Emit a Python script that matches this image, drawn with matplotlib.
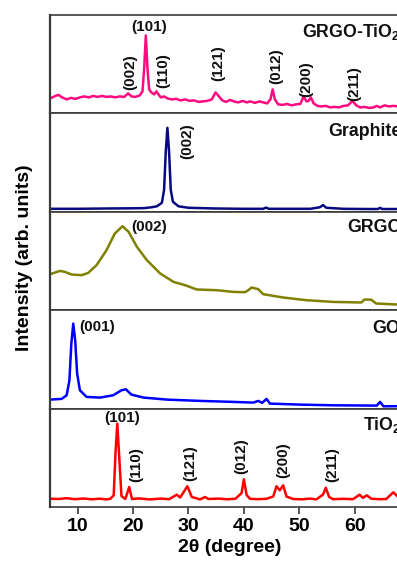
import matplotlib
matplotlib.use("Agg")
import matplotlib.pyplot as plt

plt.rcParams['font.family'] = ['Liberation Sans', 'DejaVu Sans']
plt.rcParams['mathtext.fontset'] = 'custom'
plt.rcParams['mathtext.rm'] = 'Liberation Sans:bold'
plt.rcParams['mathtext.bf'] = 'Liberation Sans:bold'
plt.rcParams['mathtext.default'] = 'bf'

# ---------------- data (2theta in degrees, intensity in arb. units) ----------------
grgo_tio2_x = [5.0, 5.8, 6.5, 7.2, 8.0, 8.8, 9.6, 10.4, 11.2, 12.0, 12.8, 13.6, 14.4, 15.2, 16.0,
               16.8, 17.6, 18.4, 19.1, 19.7, 20.4, 21.2, 21.7, 22.0, 22.3, 22.6, 22.9, 23.3, 23.8,
               24.2, 24.6, 25.0, 25.6, 26.2, 27.0, 27.8, 28.6, 29.4, 30.2, 31.0, 31.8, 32.6, 33.4,
               34.2, 34.9, 35.5, 36.1, 36.8, 37.5, 38.2, 39.0, 39.8, 40.5, 41.2, 42.0, 42.8, 43.5,
               44.2, 44.8, 45.2, 45.6, 46.2, 47.0, 47.8, 48.6, 49.4, 50.2, 50.8, 51.3, 51.7, 52.1,
               52.6, 53.3, 54.0, 54.8, 55.6, 56.4, 57.2, 58.0, 58.8, 59.6, 60.3, 61.0, 61.8, 62.6,
               63.4, 64.0, 64.6, 65.4, 66.2, 67.0, 67.8, 68.6, 69.4]
grgo_tio2_y = [15, 17, 18.5, 16, 14, 15.5, 14.5, 16, 17, 16, 17.5, 16.5, 17.5, 16.5, 17,
               16, 17, 16.5, 20, 17, 16.5, 18, 22, 45, 78, 45, 24, 21, 19,
               22, 19, 16, 17, 15, 14, 14.5, 13, 14, 12.5, 13, 11.5, 12, 12.5,
               14, 21, 17, 13, 11.5, 13.5, 12, 11, 12.5, 11, 12, 10.5, 12, 11,
               10, 14, 24, 14, 9, 8.5, 9.5, 8, 9, 9.5, 17, 12, 12.5, 16,
               10, 7.5, 7, 7.5, 6, 6.5, 6, 7.5, 8, 12.5, 8, 6, 6.5, 5.5,
               6, 7.5, 6, 8, 7, 7.5, 7, 8, 7]

graphite_x = [5.0, 10.0, 15.0, 20.0, 22.0, 23.3, 24.3, 25.2, 25.6, 25.9, 26.2, 26.5, 26.8, 27.2,
              28.2, 30.0, 35.0, 40.0, 43.5, 44.0, 44.5, 48.0, 52.0, 53.7, 54.3, 54.9, 58.0, 62.0,
              64.2, 64.6, 65.0, 70.0]
graphite_y = [3, 3, 3.3, 3.5, 3.7, 4.5, 5.5, 9, 22, 60, 84, 60, 22, 10,
              5.5, 4, 3.3, 3, 3, 4.2, 3, 3, 3, 4.5, 6.7, 4, 3, 2.8,
              2.8, 4, 2.8, 2.8]

grgo_x = [5.0, 6.8, 7.7, 8.9, 10.7, 11.9, 13.4, 15.2, 16.7, 18.1, 19.2, 20.7, 22.5, 24.9, 27.3,
          29.4, 31.5, 35.1, 38.1, 40.2, 40.8, 41.4, 42.6, 43.5, 47.1, 51.3, 56.1, 61.2, 61.8,
          63.0, 63.9, 67.5, 70.0]
grgo_y = [36, 39.3, 38.3, 35.7, 35, 37.3, 45, 60, 76.7, 84, 78.3, 63.3, 50, 36.7, 28.3,
          25, 20.7, 20, 18.3, 18, 20, 22.7, 21, 16, 12.7, 10, 8.3, 7.7, 10.7,
          10.5, 6.7, 5.7, 5.5]

go_x = [5.0, 7.1, 8.0, 8.5, 8.85, 9.2, 9.55, 9.9, 10.4, 11.6, 14.0, 16.4, 17.9, 18.7, 19.7,
        21.9, 26.1, 32.1, 38.1, 41.7, 42.6, 43.3, 44.1, 44.7, 50.1, 56.1, 64.0, 64.6, 65.2, 70.0]
go_y = [9, 9.7, 13.3, 28, 65, 85, 68, 35, 18.3, 11.7, 11, 13.3, 18.3, 19.3, 14,
        11, 9, 7.7, 6.7, 6, 7.7, 5.7, 9.7, 5, 4, 3.3, 3, 6.7, 2.3, 2.5]

tio2_x = [5.0, 6.5, 8.0, 9.5, 11.0, 12.5, 14.0, 15.2, 15.9, 16.5, 16.85, 17.15, 17.5, 17.9, 18.6,
          19.3, 19.8, 21.0, 23.0, 25.0, 26.5, 27.9, 28.5, 29.8, 30.6, 32.1, 33.0, 33.6, 35.5,
          37.0, 38.5, 39.6, 40.0, 40.5, 41.1, 42.5, 44.1, 45.3, 45.9, 46.5, 47.1, 47.7, 48.9,
          50.5, 52.0, 53.1, 54.3, 54.8, 55.4, 56.1, 58.0, 59.7, 60.9, 61.5, 62.2, 63.0, 64.5,
          65.7, 67.0, 68.0, 70.0]
tio2_y = [8.3, 8, 8.8, 7.8, 8.5, 7.7, 8.3, 7.6, 8.2, 11.7, 56.7, 83.3, 50, 11, 8,
          20, 8, 8.6, 7.6, 8.4, 7.8, 12.3, 9.5, 20.7, 10, 7.6, 10, 8, 8.4,
          7.7, 8.3, 14, 27.7, 12, 8.2, 7.8, 8.2, 10.5, 20.7, 16.7, 21.7, 10.5, 8,
          7.7, 8.4, 7.6, 12.5, 19.3, 10, 7.8, 8.2, 7.8, 12.3, 9.2, 11.7, 8.3, 7.8,
          8, 14.7, 9, 8]

sample_names = ['GRGO-TiO$_2$', 'Graphite', 'GRGO', 'GO', 'TiO$_2$']
line_colors = ['#FF0A80', '#0A0A80', '#808000', '#0000FF', '#FF0000']
x_ticks = [10, 20, 30, 40, 50, 60, 70]

series = [(grgo_tio2_x, grgo_tio2_y), (graphite_x, graphite_y), (grgo_x, grgo_y),
          (go_x, go_y), (tio2_x, tio2_y)]

# peak labels: (2theta, height, text, rotation, anchor)
peak_labels = [
    [(22.9, 79, '(101)', 0, 'bottom'), (19.4, 41, '(002)', 90, 'center'),
     (25.5, 43, '(110)', 90, 'center'), (35.4, 50.5, '(121)', 90, 'center'),
     (45.8, 47, '(012)', 90, 'center'), (51.2, 34, '(200)', 90, 'center'),
     (60.0, 30, '(211)', 90, 'center')],
    [(29.7, 71, '(002)', 90, 'center')],
    [(22.9, 83, '(002)', 0, 'center')],
    [(13.5, 81.5, '(001)', 0, 'center')],
    [(18.1, 89, '(101)', 0, 'center'), (20.6, 42.7, '(110)', 90, 'center'),
     (30.4, 44.2, '(121)', 90, 'center'), (39.6, 50.7, '(012)', 90, 'center'),
     (47.1, 46.7, '(200)', 90, 'center'), (56.0, 42.7, '(211)', 90, 'center')],
]
name_pos = [(50.5, 81), (55.2, 80), (58.6, 83), (63.1, 80.5), (61.6, 81.7)]

# ---------------- figure ----------------
W, H = 397, 562
fig = plt.figure(figsize=(W / 100, H / 100), dpi=100)

left_px, right_px = 50, 410
top_px, bot_px = 15, 507
n = 5
ph = (bot_px - top_px) / n
spine_col = '#3a3a3a'

axes = []
for i in range(n):
    y0 = bot_px - (n - i - 1) * ph
    ax = fig.add_axes([left_px / W, 1 - y0 / H, (right_px - left_px) / W, ph / H])
    axes.append(ax)
    xs, ys = series[i]
    ax.plot(xs, ys, color=line_colors[i], lw=1.8, solid_joinstyle='round')
    ax.set_xlim(5, 70)
    ax.set_ylim(0, ph)
    ax.set_yticks([])
    for s in ax.spines.values():
        s.set_color(spine_col)
        s.set_linewidth(1.2)
    ax.spines['left'].set_linewidth(1.6)
    for (px_, py_, txt, rot, va) in peak_labels[i]:
        ax.text(px_, py_, txt, rotation=rot, ha='center', va=va,
                fontsize=11, fontweight='bold', color='#111111')
    nx, ny = name_pos[i]
    ax.text(nx, ny, sample_names[i], ha='left', va='center', fontsize=12.8,
            fontweight='bold', color='#111111')
    if i < n - 1:
        ax.set_xticks([])
    else:
        ax.set_xticks(x_ticks)
        ax.tick_params(axis='x', direction='out', length=5, width=1.2,
                       color=spine_col, pad=3, labelsize=14)
        for lb in ax.get_xticklabels():
            lb.set_fontweight('bold')
        ax.set_xlabel('2θ (degree)', fontsize=14, fontweight='bold', labelpad=3)

fig.text(25 / W, 1 - 258 / H, 'Intensity (arb. units)', rotation=90, ha='center',
         va='center', fontsize=14, fontweight='bold')

fig.savefig('out.png', dpi=100)
